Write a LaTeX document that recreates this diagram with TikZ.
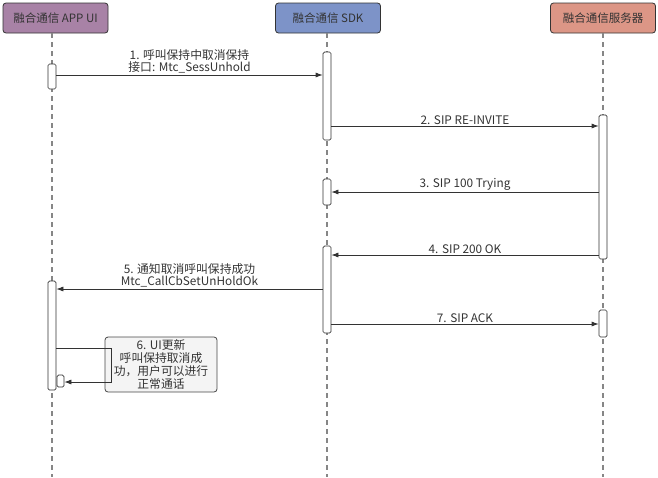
\documentclass[tikz,border=0pt]{standalone}
\usepackage{fontspec}
\setmainfont{Noto Sans CJK SC}
\usetikzlibrary{arrows.meta}

\definecolor{uicol}{HTML}{A882A6}
\definecolor{sdkcol}{HTML}{7D93C8}
\definecolor{srvcol}{HTML}{DC9686}
\definecolor{ink}{HTML}{333333}
\definecolor{notefill}{HTML}{F4F4F4}

\tikzset{
  head/.style={draw=ink, rounded corners=3pt, line width=0.8pt, minimum width=105pt,
    minimum height=30pt, text=ink, font=\fontsize{11.5}{12}\selectfont},
  life/.style={draw=gray!95, line width=1.3pt, dash pattern=on 5pt off 4pt},
  act/.style={draw=ink, fill=white, rounded corners=1.5pt, minimum width=8pt,
    inner sep=0pt, line width=0.7pt},
  msg/.style={draw=ink, line width=0.7pt, -{Latex[length=7pt,width=5pt]}},
  lbl/.style={font=\fontsize{11.8}{12.5}\selectfont, text=ink, align=center, inner sep=1.5pt},
  notebox/.style={draw=ink!90, fill=notefill, rounded corners=3pt, line width=0.8pt,
    minimum width=112pt, minimum height=55pt, align=center, text=ink,
    font=\fontsize{11.8}{13.3}\selectfont, inner sep=1pt}
}

\begin{document}
\begin{tikzpicture}[x=1pt, y=-1pt]
  \useasboundingbox (0,0) rectangle (658,477);

  % 1. Participants
  \node[head, fill=uicol] (ui) at (55.5,18) {融合通信 APP UI};
  \node[head, fill=sdkcol] (sdk) at (328,18) {融合通信 SDK};
  \node[head, fill=srvcol] (srv) at (603,18) {融合通信服务器};

  % 2. Lifelines
  \coordinate (uiEnd) at (52,477);
  \coordinate (sdkEnd) at (327,477);
  \coordinate (srvEnd) at (603,477);
  \draw[life] (ui.south -| uiEnd) -- (uiEnd);
  \draw[life] (sdk.south -| sdkEnd) -- (sdkEnd);
  \draw[life] (srv.south -| srvEnd) -- (srvEnd);

  % 3. Activations
  \node[act, minimum height=25pt] (uiA1) at (52,76.5) {};
  \node[act, minimum height=109pt] (uiA2) at (52,335.5) {};
  \node[act, minimum width=7pt, minimum height=12pt] (uiA3) at (60.5,381) {};
  \node[act, minimum height=88pt] (sdkA1) at (327,96) {};
  \node[act, minimum height=26pt] (sdkA2) at (327,192) {};
  \node[act, minimum height=87pt] (sdkA3) at (327,289.5) {};
  \node[act, minimum height=144pt] (srvA1) at (603,187) {};
  \node[act, minimum height=27pt] (srvA2) at (603,323.5) {};

  % 4. Messages
  \draw[msg] (uiA1.east |- 0,75) -- node[lbl, above] {1. 呼叫保持中取消保持\\接口: Mtc\_SessUnhold} (sdkA1.west |- 0,75);
  \draw[msg] (sdkA1.east |- 0,126) -- node[lbl, above] {2. SIP RE-INVITE} (srvA1.west |- 0,126);
  \draw[msg] (srvA1.west |- 0,192) -- node[lbl, above] {3. SIP 100 Trying} (sdkA2.east |- 0,192);
  \draw[msg] (srvA1.west |- 0,255) -- node[lbl, above] {4. SIP 200 OK} (sdkA3.east |- 0,255);
  \draw[msg] (sdkA3.west |- 0,289) -- node[lbl, above] {5. 通知取消呼叫保持成功\\Mtc\_CallCbSetUnHoldOk} (uiA2.east |- 0,289);
  \draw[msg] (sdkA3.east |- 0,324) -- node[lbl, above] {7. SIP ACK} (srvA2.west |- 0,324);

  % 5. Self message with note
  \node[notebox] (note) at (161,364.5) {6. UI更新\\呼叫保持取消成\\功，用户可以进行\\正常通话};
  \coordinate (selfTop) at (111,348);
  \coordinate (selfBot) at (111,382);
  \draw[msg] (uiA2.east |- selfTop) -- (selfTop) -- (selfBot) -- (uiA3.east |- selfBot);
\end{tikzpicture}
\end{document}
